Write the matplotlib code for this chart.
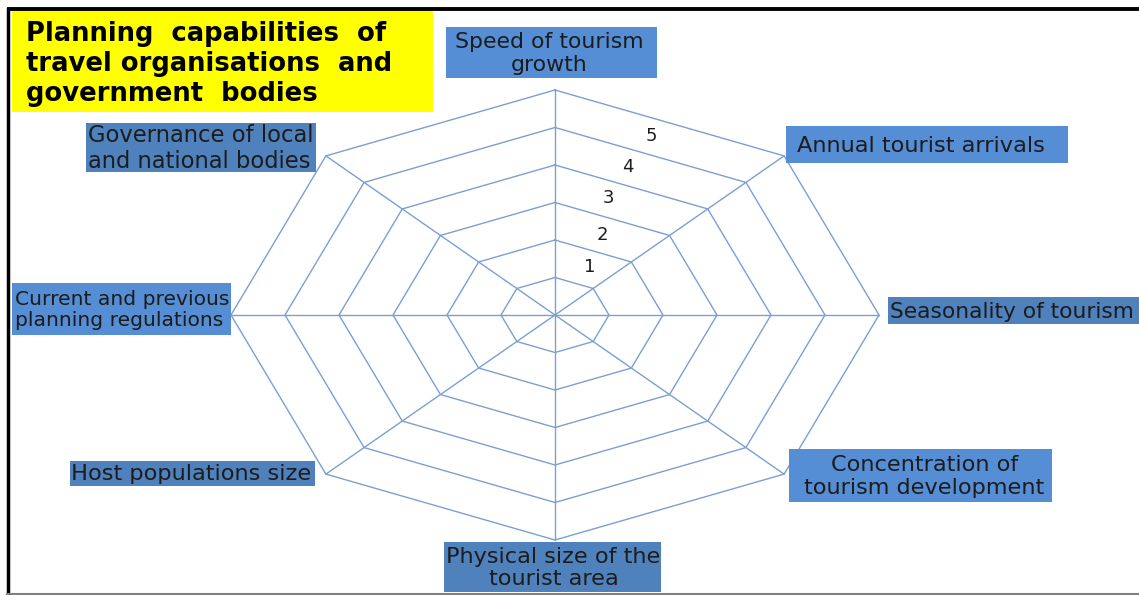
import matplotlib.pyplot as plt
from matplotlib.patches import Rectangle
import numpy as np

plt.rcParams['font.family'] = ['DejaVu Sans']

categories = ['Speed of tourism\ngrowth', 'Annual tourist arrivals', 'Seasonality of tourism',
              'Concentration of\ntourism development', 'Physical size of the\ntourist area',
              'Host populations size', 'Current and previous\nplanning regulations',
              'Governance of local\nand national bodies']
rings = [1, 2, 3, 4, 5, 6]
ring_labels = ['1', '2', '3', '4', '5']
title = 'Planning  capabilities  of\ntravel organisations  and\ngovernment  bodies'

W, H = 1139, 595
fig = plt.figure(figsize=(W / 100, H / 100), dpi=100)
fig.patch.set_facecolor('white')

# radar grid, stretched wider than tall like the original
cx, cy, rx, ry = 555, 315, 324, 225
ax = fig.add_axes([(cx - rx) / W, (H - cy - ry) / H, 2 * rx / W, 2 * ry / H])
ax.set_xlim(-6, 6)
ax.set_ylim(-6, 6)
ax.axis('off')
line_col = '#7b9fd3'
angles = np.pi / 2 - np.arange(len(categories)) * 2 * np.pi / len(categories)
for r in rings:
    xs = np.append(r * np.cos(angles), r * np.cos(angles[0]))
    ys = np.append(r * np.sin(angles), r * np.sin(angles[0]))
    ax.plot(xs, ys, color=line_col, lw=1.0, clip_on=False)
for a in angles:
    ax.plot([0, rings[-1] * np.cos(a)], [0, rings[-1] * np.sin(a)], color=line_col, lw=1.0, clip_on=False)

# overlay in pixel units for boxes and labels
ov = fig.add_axes([0, 0, 1, 1])
ov.set_xlim(0, W)
ov.set_ylim(H, 0)
ov.axis('off')
ov.patch.set_alpha(0)

# frame lines
ov.plot([7.5, 7.5], [8, 594], color='black', lw=2.5, solid_capstyle='butt')
ov.plot([6.5, W], [8.5, 8.5], color='black', lw=2.8, solid_capstyle='butt')
ov.plot([7, W], [594, 594], color='#7f7f7f', lw=1.5)

# title box
ov.add_patch(Rectangle((12, 11), 421, 101, facecolor='#ffff00', edgecolor='none'))
ov.text(26, 64, title, fontsize=18.6, fontweight='bold', color='black', ha='left', va='center',
        linespacing=1.22)

boxes = [(446, 27, 657, 78), (786, 126, 1068, 163), (888, 297, 1145, 324),
         (789, 449, 1052, 502), (444, 542, 661, 592), (70, 461, 315, 486),
         (12, 283, 231, 335), (86, 123, 316, 172)]
box_cols = ['#558ed5', '#558ed5', '#4f81bd', '#558ed5', '#4f81bd', '#4f81bd', '#558ed5', '#4f81bd']
aligns = ['center', 'left', 'left', 'center', 'center', 'left', 'left', 'left']
sizes = [15.8, 16.2, 15.7, 16.1, 16.1, 16.2, 14.6, 16.3]
offsets = [-2, 11, 2, 4, 1, 1, 3, 2]
for lab, (x0, y0, x1, y1), fc, ha, fs, dx in zip(categories, boxes, box_cols, aligns, sizes, offsets):
    ov.add_patch(Rectangle((x0, y0), x1 - x0, y1 - y0, facecolor=fc, edgecolor='none', clip_on=True))
    tx = (x0 + x1) / 2 + dx if ha == 'center' else x0 + dx
    ov.text(tx, (y0 + y1) / 2 + 1, lab, fontsize=fs, color='#1c1c1c', ha=ha, va='center',
            multialignment=ha, linespacing=1.13, clip_on=True)

# ring numbers
num_pos = [(590, 267), (602, 235), (608, 198), (628, 167), (651, 136)]
for t, (x, y) in zip(ring_labels, num_pos):
    ov.text(x, y, t, fontsize=13, color='#1c1c1c', ha='center', va='center')

fig.savefig('out.png', dpi=100)
